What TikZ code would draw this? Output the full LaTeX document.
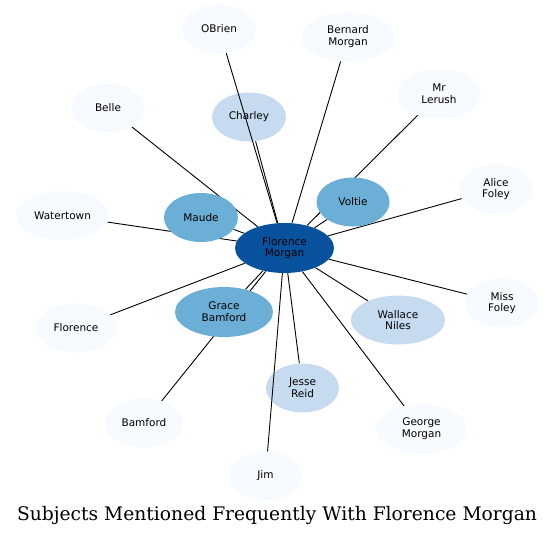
\documentclass[tikz,border=0pt]{standalone}
\usepackage{fontspec}
\usetikzlibrary{shapes.geometric}
\newfontfamily\dejavu{DejaVu Sans}
\newfontfamily\dejavuserif{DejaVu Serif}
\definecolor{c0}{HTML}{F7FBFF}
\definecolor{c2}{HTML}{C6DBEF}
\definecolor{c4}{HTML}{6BAED6}
\definecolor{c7}{HTML}{08519C}
\pgfdeclarelayer{bg}
\pgfsetlayers{bg,main}
\tikzset{
  nd/.style={ellipse, minimum width=#1, minimum height=49pt, inner sep=0pt, align=center,
    font={\dejavu\fontsize{10.5}{11.8}\selectfont}, text=black},
  lt/.style={fill=c0},
  md/.style={fill=c2},
  dk/.style={fill=c4},
  ct/.style={fill=c7},
  edge/.style={draw=black, line width=0.9pt},
}
\begin{document}
\begin{tikzpicture}[x=1pt,y=-1pt]
\useasboundingbox (0,0) rectangle (553,536);
\node[nd=99pt, ct, minimum height=50pt] (fm) at (284.5,248) {Florence\\Morgan};
\node[nd=74pt, lt] (obrien) at (219,29) {OBrien};
\node[nd=94pt, lt] (bernard) at (348,37) {Bernard\\Morgan};
\node[nd=84pt, lt] (lerush) at (439,94) {Mr\\Lerush};
\node[nd=74pt, lt] (belle) at (108,108) {Belle};
\node[nd=74pt, md] (charley) at (249,117) {Charley};
\node[nd=74pt, lt] (alice) at (496,189) {Alice\\Foley};
\node[nd=93pt, lt] (water) at (62.5,215.5) {Watertown};
\node[nd=74pt, dk] (maude) at (201,217.5) {Maude};
\node[nd=73pt, dk] (voltie) at (353,202) {Voltie};
\node[nd=80pt, lt] (florence) at (76,328) {Florence};
\node[nd=98pt, dk, minimum height=50pt] (grace) at (224,312) {Grace\\Bamford};
\node[nd=94pt, md] (wallace) at (398,320) {Wallace\\Niles};
\node[nd=74pt, lt] (miss) at (502,303) {Miss\\Foley};
\node[nd=73pt, md] (jesse) at (302.5,388) {Jesse\\Reid};
\node[nd=78pt, lt] (bamford) at (144,423) {Bamford};
\node[nd=91pt, lt] (george) at (421.5,429) {George\\Morgan};
\node[nd=73pt, lt] (jim) at (265.5,476) {Jim};
\begin{pgfonlayer}{bg}
\foreach \n in {bernard,lerush,belle,charley,alice,water,maude,voltie,florence,grace,wallace,miss,jesse,bamford,george}
  \draw[edge] (fm) -- (\n);
\end{pgfonlayer}
\draw[edge] (fm) -- (obrien);
\draw[edge] (fm) -- (jim);
\node[font={\dejavuserif\fontsize{18.7}{22}\selectfont}] (title) at (277,515) {Subjects Mentioned Frequently With Florence Morgan};
\end{tikzpicture}
\end{document}
